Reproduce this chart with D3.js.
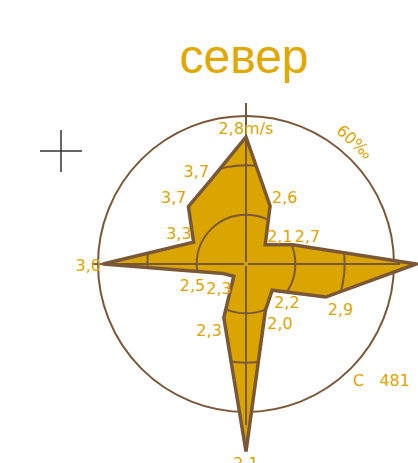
<!DOCTYPE html>
<html>
<head>
<meta charset="utf-8">
<script src="https://cdn.jsdelivr.net/npm/d3@7"></script>
<style>
	body { margin: 0; background: #fff; }
	svg { display: block; }
	text { font-family: "DejaVu Sans", sans-serif; fill: #dea400; }
</style>
</head>
<body>
<svg width="418" height="463"></svg>
<script>
// 16 rhumbs, clockwise from north
var directions = ["N", "NNE", "NE", "ENE", "E", "ESE", "SE", "SSE", "S", "SSW", "SW", "WSW", "W", "WNW", "NW", "NNW"];
// repeatability, per mille
var frequency = [51.5, 25.5, 11, 20.5, 69, 35, 15, 20.5, 76, 23.5, 7, 10, 58, 23, 33, 37];
// mean wind speed labels, m/s
var speedLabels = ["2,8m/s", "2,6", "2,1", "2,7", "3,1", "2,9", "2,2", "2,0", "2,1", "2,3", "2,3", "2,5", "3,0", "3,3", "3,7", "3,7"];
var rings = [20, 40];
var outerRing = 60;

var svg = d3.select('svg'),
	cx = 246,
	cy = 264,
	brown = '#7a5837',
	gold = '#dba500';

var r = d3.scaleLinear().domain([0, outerRing]).range([0, 148]);
var angle = d3.scaleLinear().domain([0, directions.length]).range([0, 2 * Math.PI]);

function point(i, v) {
	var a = angle(i);
	return [cx + r(v) * Math.sin(a), cy - r(v) * Math.cos(a)];
}

var pts = frequency.map(function(v, i) { return point(i, v); });
var line = d3.line().curve(d3.curveLinearClosed);

// title
svg.append('text')
	.attr('x', cx - 2)
	.attr('y', 73)
	.attr('text-anchor', 'middle')
	.style('font-family', '"Liberation Sans", sans-serif')
	.style('font-size', '48px')
	.style('fill', '#e0a800')
	.text('север');

// crosshair mark
var cross = svg.append('g').attr('stroke', '#333').attr('stroke-width', 1.5);
cross.append('line').attr('x1', 40).attr('x2', 82).attr('y1', 151).attr('y2', 151);
cross.append('line').attr('x1', 61).attr('x2', 61).attr('y1', 130).attr('y2', 172);

svg.append('clipPath').attr('id', 'rose-clip')
	.append('path').attr('d', line(pts));

// outer 60 per mille circle
svg.append('circle')
	.attr('cx', cx).attr('cy', cy).attr('r', r(outerRing))
	.attr('fill', 'none').attr('stroke', brown).attr('stroke-width', 2);

svg.append('path')
	.attr('d', line(pts))
	.attr('fill', gold);

// inner rings only inside the rose
svg.append('g').attr('clip-path', 'url(#rose-clip)')
	.selectAll('circle').data(rings).enter().append('circle')
	.attr('cx', cx).attr('cy', cy)
	.attr('r', function(d) { return r(d); })
	.attr('fill', 'none').attr('stroke', brown).attr('stroke-width', 2);

// axes
var axes = svg.append('g').attr('stroke', brown).attr('stroke-width', 2);
axes.append('line').attr('x1', cx).attr('x2', cx).attr('y1', cy - 161).attr('y2', cy + 161);
axes.append('line').attr('x1', cx - 154).attr('x2', cx + 154).attr('y1', cy).attr('y2', cy);

svg.append('path')
	.attr('d', line(pts))
	.attr('fill', 'none')
	.attr('stroke', brown)
	.attr('stroke-width', 3.5)
	.attr('stroke-linejoin', 'miter');

svg.append('circle').attr('cx', cx).attr('cy', cy).attr('r', 2).attr('fill', gold);

// speed labels next to each vertex
svg.append('g').selectAll('text')
	.data(pts).enter().append('text')
	.attr('x', function(d) { return d[0]; })
	.attr('y', function(d) { return d[1]; })
	.attr('text-anchor', function(d, i) {
		var s = Math.sin(angle(i));
		return s > 0.1 ? 'start' : (s < -0.1 ? 'end' : 'middle');
	})
	.attr('dx', function(d, i) {
		var s = Math.sin(angle(i));
		// WSW label is pushed left so it does not sit on the SW one
		if (directions[i] === 'WSW') return -18;
		return s > 0.1 ? 2 : (s < -0.1 ? -2 : 0);
	})
	.attr('dy', function(d, i) {
		var c = Math.cos(angle(i));
		return c > 0.1 ? -3 : (c < -0.1 ? 18 : 7);
	})
	.style('font-size', '16px')
	.text(function(d, i) { return speedLabels[i]; });

// ring caption
svg.append('text')
	.attr('transform', 'translate(351,146) rotate(42)')
	.attr('text-anchor', 'middle')
	.style('font-size', '16px')
	.text('60‰');

svg.append('text')
	.attr('x', 353)
	.attr('y', 386)
	.style('font-size', '16px')
	.attr('xml:space', 'preserve')
	.text('С   481');
</script>
</body>
</html>
